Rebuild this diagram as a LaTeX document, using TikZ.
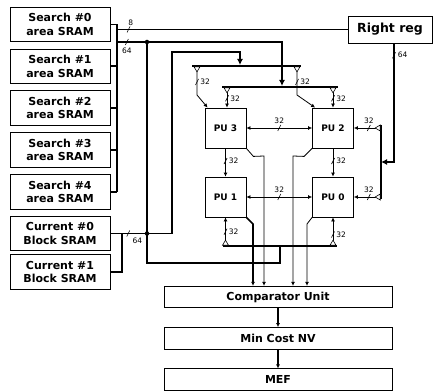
\documentclass[tikz,border=0pt]{standalone}
\usepackage{fontspec}
\setmainfont{DejaVu Sans}
\usetikzlibrary{arrows.meta,positioning,calc}

\begin{document}
\begin{tikzpicture}[x=1pt,y=-1pt,
  box/.style={draw,line width=0.8pt,fill=white,inner sep=1pt,align=center,font=\fontsize{11}{13.5}\selectfont\bfseries},
  sbox/.style={box,minimum width=100pt,minimum height=34.5pt},
  pubox/.style={box,minimum width=41pt,minimum height=40pt,font=\fontsize{9}{11}\selectfont\bfseries},
  wbox/.style={box,minimum width=228pt,minimum height=21.5pt},
  bus/.style={line width=1.6pt},
  wire/.style={line width=0.8pt},
  arr/.style={-{Latex[length=4pt,width=4pt]}},
  barr/.style={-{Latex[length=6pt,width=6pt]}},
  darr/.style={{Latex[length=4pt,width=4pt]}-{Latex[length=4pt,width=4pt]}},
  wl/.style={font=\fontsize{7.5}{8}\selectfont,inner sep=1pt},
  jn/.style={circle,fill,inner sep=0pt,minimum size=4.5pt},
  wtick/.pic={\draw[-,line width=0.6pt] (-1.5pt,-3pt) -- (1.5pt,3pt);},
  wtap/.pic={\draw[-,line width=0.6pt,fill=white] (-3pt,-0.8pt) -- (3pt,-0.8pt) -- (0pt,-5.8pt) -- cycle;}]
\useasboundingbox (0,0) rectangle (435,390);

% memories
\node[sbox] (s0) at (60,24.5) {Search \#0\\area SRAM};
\node[sbox,below=6.5pt of s0] (s1) {Search \#1\\area SRAM};
\node[sbox,below=6.5pt of s1] (s2) {Search \#2\\area SRAM};
\node[sbox,below=6.5pt of s2] (s3) {Search \#3\\area SRAM};
\node[sbox,below=6.5pt of s3] (s4) {Search \#4\\area SRAM};
\node[sbox,below=6.5pt of s4] (c0) {Current \#0\\Block SRAM};
\node[sbox,below=3pt of c0] (c1) {Current \#1\\Block SRAM};
\node[box,minimum width=84pt,minimum height=27pt,font=\fontsize{12.5}{14}\selectfont\bfseries] (rr) at (390,29.5) {Right reg};

% processing units
\node[pubox] (pu3) at (225.5,128) {PU 3};
\node[pubox] (pu2) at (333,128) {PU 2};
\node[pubox] (pu1) at (225.5,197) {PU 1};
\node[pubox] (pu0) at (333,197) {PU 0};

% output chain
\node[wbox] (cmp) at (278,297) {Comparator Unit};
\node[wbox,below=19pt of cmp] (mcn) {Min Cost NV};
\node[wbox,below=19pt of mcn] (mef) {MEF};

% bus points
\coordinate (bt) at (117,24.5);
\coordinate (sb) at (117,42);
\coordinate (jt) at (147,42);
\coordinate (jb) at (147,263);
\coordinate (cv) at (122,0);
\coordinate (cu) at (172,52);
\coordinate (b1l) at (192,66); \coordinate (b1r) at (301,66);
\coordinate (b2l) at (222,87); \coordinate (b2r) at (338,87);
\coordinate (b3l) at (223,246); \coordinate (b3r) at (337,246);
\coordinate (b4t) at (381,125); \coordinate (b4b) at (381,199);
\coordinate (b1f) at (240,65);
\coordinate (b2f) at (282,86);
\coordinate (b3f) at (280,246);
\coordinate (rx) at (394,162);
\coordinate (t1) at (197,66); \coordinate (k1) at (197,95);
\coordinate (t2) at (297,66); \coordinate (k2) at (297,95);
\coordinate (t3) at (227,87);
\coordinate (t4) at (333,87);
\coordinate (o3) at (264,156);
\coordinate (o2) at (293,156);
\coordinate (o1) at (253,224);
\coordinate (o0) at (307,224);

% search bus
\foreach \s in {s0,s1,s2,s3,s4} \draw[bus] (\s.east) -- (\s.east -| bt);
\draw[bus] (bt) -- (s4.east -| bt);
\draw[bus] (bt |- rr.west) -- (rr.west) pic[pos=.05]{wtick} node[pos=.06,above=2pt,wl]{8};
\draw[bus,barr] (sb) -- (b2f |- sb) pic[pos=.06]{wtick} node[pos=.06,below=4pt,wl]{64} -- (b2f);
\draw[bus] (jt) -- (jb) -- (jb -| b3f) -- (b3f);
\node[jn] (d1) at (jt) {};

% current block bus
\draw[bus,barr] (c0.east) -- (c0.east -| cu) pic[pos=.29]{wtick} node[pos=.33,below right=3pt and 0pt,wl]{64} -- (cu) -- (cu -| b1f) -- (b1f);
\draw[bus] (c1.east) -| (c0.east -| cv);
\node[jn] (d2) at (c0.east -| jt) {};

% right reg
\draw[bus,barr] (rr.south -| rx) -- (rx) pic[pos=.1]{wtick} node[pos=.1,right=2pt,wl]{64} -- (rx -| b4t);

% bars
\draw[bus] (b1l) -- (b1r);
\draw[bus] (b2l) -- (b2r);
\draw[bus] (b3l) -- (b3r);
\draw[bus] (b4t) -- (b4b);

% PU inputs
\draw[wire,arr] (t1) -- (k1) pic[pos=.55]{wtick} node[pos=.55,right=2pt,wl]{32} -- ($(pu3.north west)+(3,0)$);
\draw[wire,arr] (t2) -- (k2) pic[pos=.55]{wtick} node[pos=.55,right=2pt,wl]{32} -- ($(pu2.north west)+(3,0)$);
\draw[wire,arr] (t3) -- (t3 |- pu3.north) pic[pos=.55]{wtick} node[pos=.55,right=2pt,wl]{32};
\draw[wire,arr] (t4) -- (pu2.north) pic[pos=.55]{wtick} node[pos=.55,right=2pt,wl]{32};
\draw[wire,arr] (b4t |- pu2.east) -- (pu2.east) pic[pos=.45]{wtick} node[pos=.45,above=3pt,wl]{32};
\draw[wire,arr] (b4t |- pu0.east) -- (pu0.east) pic[pos=.45]{wtick} node[pos=.45,above=3pt,wl]{32};
\draw[wire,arr] (pu1.south |- b3l) -- (pu1.south) pic[pos=.5]{wtick} node[pos=.5,right=2pt,wl]{32};
\draw[wire,arr] (pu0.south |- b3l) -- (pu0.south) pic[pos=.4]{wtick} node[pos=.4,right=2pt,wl]{32};

% PU links
\draw[wire,darr] (pu3) -- (pu2) pic[pos=.5]{wtick} node[pos=.5,above=3pt,wl]{32};
\draw[wire,darr] (pu1) -- (pu0) pic[pos=.5]{wtick} node[pos=.5,above=3pt,wl]{32};
\draw[wire,arr] (pu3.south) -- (pu1.north) pic[pos=.45]{wtick} node[pos=.45,right=2pt,wl]{32};
\draw[wire,arr] (pu2.south) -- (pu0.north) pic[pos=.45]{wtick} node[pos=.45,right=2pt,wl]{32};

% taps
\foreach \t in {t1,t2,t3,t4} \pic at (\t) {wtap};
\pic[rotate=-90] at (b4t |- pu2.east) {wtap};
\pic[rotate=-90] at (b4t |- pu0.east) {wtap};
\pic[rotate=180] at (pu1.south |- b3l) {wtap};
\pic[rotate=180] at (pu0.south |- b3l) {wtap};

% PU outputs
\draw[wire,arr] (pu3.south east) -- ++(7,8) -- (o3) -- (o3 |- cmp.north);
\draw[wire,arr] (pu2.south west) -- ++(-8,8) -- (o2) -- (o2 |- cmp.north);
\draw[bus,arr] (pu1.south east) -- (o1) -- (o1 |- cmp.north);
\draw[wire,arr] (pu0.south west) -- (o0) -- (o0 |- cmp.north);

\draw[bus,arr] (cmp) -- (mcn);
\draw[bus,arr] (mcn) -- (mef);
\end{tikzpicture}
\end{document}
